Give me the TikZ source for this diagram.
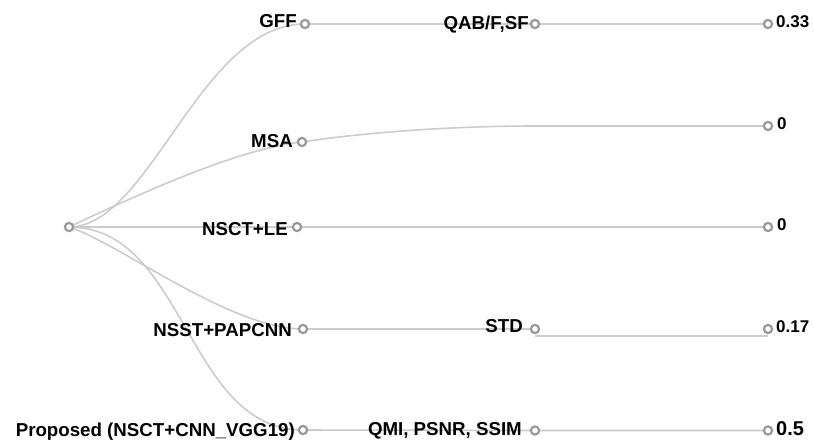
\documentclass[tikz,border=0pt]{standalone}
\usepackage{fontspec}
\setmainfont{Liberation Sans}
\definecolor{linkgray}{HTML}{CCCCCC}
\definecolor{dotgray}{HTML}{999999}
\begin{document}
\begin{tikzpicture}[x=1pt,y=-1pt,
  dot/.style={circle,draw=dotgray,fill=white,line width=2.2pt,minimum size=8.2pt,inner sep=0pt},
  link/.style={draw=linkgray,line width=1.6pt},
  lbl/.style={inner sep=0pt,font=\bfseries\fontsize{18.7}{20}\selectfont},
  val/.style={inner sep=0pt,font=\bfseries\fontsize{17}{18}\selectfont}]
\useasboundingbox (0,0) rectangle (814,440);

% node positions
\coordinate (root) at (69,227);
\coordinate (gff) at (305,24);
\coordinate (msa) at (302,142);
\coordinate (le) at (297,227);
\coordinate (nsst) at (303,329);
\coordinate (prop) at (303,430);
\coordinate (qab) at (535,24);
\coordinate (msaend) at (535,126);
\coordinate (std) at (535,329);
\coordinate (qmi) at (535,430.5);
\coordinate (v1) at (768,24);
\coordinate (v2) at (768,126);
\coordinate (v3) at (768,227);
\coordinate (v4) at (768,329);
\coordinate (v5) at (768,430.5);

% links
\draw[link] (root) .. controls (150,227) and (200,24) .. (gff);
\draw[link] (root) .. controls (139,194) and (240,148) .. (msa);
\draw[link] (root) -- (le);
\draw[link] (root) .. controls (119,243) and (230,329) .. (nsst);
\draw[link] (root) .. controls (186,227) and (186,430) .. (prop);
\draw[link] (gff) -- (qab) -- (v1);
\draw[link] (msa) .. controls (362,132.7) and (450,126) .. (msaend) -- (v2);
\draw[link] (le) -- (v3);
\draw[link] (nsst) -- (std);
\draw[link] ([yshift=-7pt]std) -- ([yshift=-7pt]v4);
\draw[link] (prop) -- (qmi) -- (v5);

% labels
\node[lbl,anchor=base east] (tgff) at (297,27) {GFF};
\node[lbl,anchor=base east] (tmsa) at (293,147) {MSA};
\node[lbl,anchor=base east] (tle) at (288,235) {NSCT+LE};
\node[lbl,anchor=base east] (tnsst) at (292,336) {NSST+PAPCNN};
\node[lbl,anchor=base east] (tprop) at (295,436) {Proposed (NSCT+CNN\_VGG19)};
\node[lbl,anchor=base east] (tqab) at (529,29) {QAB/F,SF};
\node[lbl,anchor=base east] (tstd) at (523,332) {STD};
\node[lbl,anchor=base east] (tqmi) at (522,435) {QMI, PSNR, SSIM};
\node[val,anchor=base west] (tv1) at (776,27) {0.33};
\node[val,anchor=base west] (tv2) at (777,129) {0};
\node[val,anchor=base west] (tv3) at (777,230) {0};
\node[val,anchor=base west] (tv4) at (776,332) {0.17};
\node[val,anchor=base west,font=\bfseries\fontsize{20}{22}\selectfont] (tv5) at (776,435) {0.5};

% circles
\foreach \p in {root,gff,msa,le,nsst,prop,qab,std,qmi,v1,v2,v3,v4,v5}
  \node[dot] (d\p) at (\p) {};
\end{tikzpicture}
\end{document}
